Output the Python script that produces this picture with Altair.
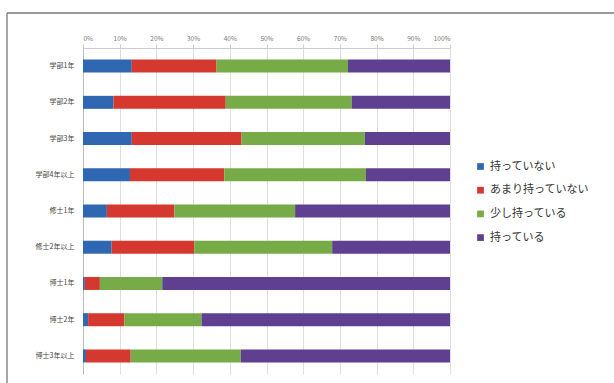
import altair as alt
import pandas as pd

groups = ["学部1年", "学部2年", "学部3年", "学部4年以上", "修士1年", "修士2年以上", "博士1年", "博士2年", "博士3年以上"]
series = ["持っていない", "あまり持っていない", "少し持っている", "持っている"]
v_none = [13.3, 8.3, 13.3, 12.8, 6.5, 7.8, 0.5, 1.4, 0.8]
v_little = [23.1, 30.6, 29.9, 25.7, 18.4, 22.5, 4.1, 9.9, 12.2]
v_some = [35.8, 34.3, 33.6, 38.6, 32.9, 37.6, 17.0, 21.0, 30.0]
v_have = [27.8, 26.8, 23.2, 22.9, 42.2, 32.1, 78.4, 67.7, 57.0]
colors = ["#2f67b2", "#d5382f", "#77ab47", "#5f3f8f"]

rows = []
for i, g in enumerate(groups):
    for j, (s, vals) in enumerate(zip(series, [v_none, v_little, v_some, v_have])):
        rows.append({"group": g, "series": s, "value": vals[i], "order": j})
df = pd.DataFrame(rows)

font = "Noto Sans CJK JP"

bars = alt.Chart(df).mark_bar(size=13).encode(
    y=alt.Y("group:N", sort=groups, title=None,
            axis=alt.Axis(labelFontSize=7, labelColor="#444", labelFont=font,
                          ticks=False, domain=True, domainColor="#bbb",
                          labelPadding=9)),
    x=alt.X("value:Q", stack="normalize", title=None,
            scale=alt.Scale(domain=[0, 1]),
            axis=alt.Axis(orient="top", format="%", values=[i / 10 for i in range(11)],
                          labelFontSize=6.5, labelColor="#777", labelFont=font,
                          grid=True, gridColor="#dedede", tickColor="#ccc", tickSize=4,
                          domainColor="#ccc", labelPadding=3)),
    color=alt.Color("series:N", sort=series,
                    scale=alt.Scale(domain=series, range=colors),
                    legend=alt.Legend(title=None, orient="none", legendX=392, legendY=113,
                                      labelFont=font, labelFontSize=11, labelColor="#333",
                                      symbolType="square", symbolSize=45, symbolStrokeWidth=0,
                                      rowPadding=11.7)),
    order=alt.Order("order:Q"),
)

frame_df = pd.DataFrame({"a": [0]})
left_line = alt.Chart(frame_df).mark_rule(color="#777", strokeWidth=1.3).encode(
    x=alt.value(-76), y=alt.value(-35), y2=alt.value(340))
top_line = alt.Chart(frame_df).mark_rule(color="#777", strokeWidth=1.3).encode(
    y=alt.value(-35), x=alt.value(-76), x2=alt.value(535))

chart = alt.layer(bars, left_line, top_line).properties(
    width=367, height=326,
    autosize=alt.AutoSizeParams(type="none"),
    padding={"left": 83, "top": 48, "right": 164, "bottom": 9},
    background="white",
).configure_view(stroke=None)

chart.save("out.html", embed_options={"renderer": "svg", "actions": False})
